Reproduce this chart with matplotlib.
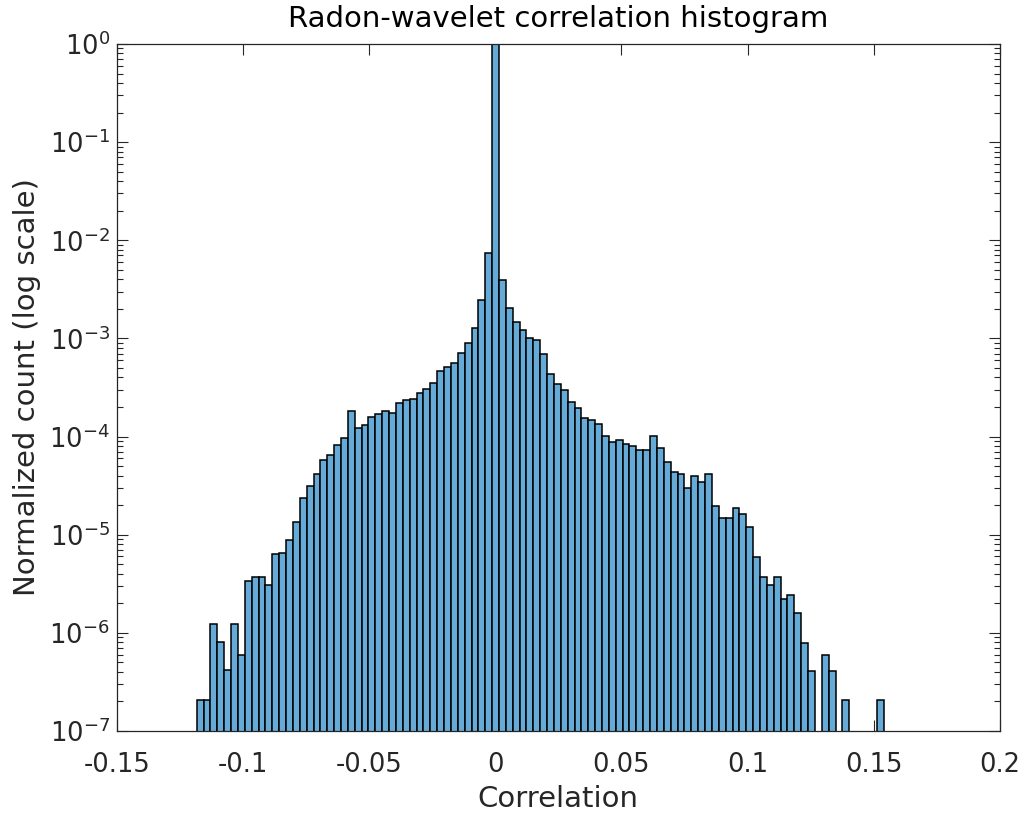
import numpy as np
import matplotlib
matplotlib.use("Agg")
import matplotlib.pyplot as plt
from matplotlib.ticker import LogLocator, FixedLocator, FixedFormatter, NullFormatter

# ---- data ----
bin_lo = -0.1183
bin_hi = 0.1539
heights = [
    2.04e-7, 2.04e-7, 1.23e-6, 8.07e-7, 4.18e-7, 1.23e-6, 5.98e-7, 3.40e-6, 3.73e-6, 3.73e-6,
    3.09e-6, 6.36e-6, 6.56e-6, 8.84e-6, 1.35e-5, 2.36e-5, 3.11e-5, 4.16e-5, 5.77e-5, 6.53e-5,
    8.26e-5, 9.67e-5, 1.83e-4, 1.22e-4, 1.32e-4, 1.59e-4, 1.70e-4, 1.81e-4, 1.75e-4, 2.21e-4,
    2.34e-4, 2.43e-4, 2.80e-4, 3.07e-4, 3.54e-4, 4.69e-4, 5.15e-4, 5.66e-4, 7.15e-4, 8.88e-4,
    1.28e-3, 2.46e-3, 7.50e-3, 1.0, 3.94e-3, 2.06e-3, 1.47e-3, 1.22e-3, 1.01e-3, 9.64e-4,
    6.99e-4, 4.37e-4, 3.43e-4, 2.98e-4, 2.26e-4, 1.95e-4, 1.55e-4, 1.47e-4, 1.34e-4, 1.01e-4,
    8.87e-5, 9.23e-5, 8.40e-5, 8.01e-5, 7.30e-5, 7.30e-5, 1.01e-4, 7.64e-5, 5.51e-5, 4.36e-5,
    4.16e-5, 2.99e-5, 3.97e-5, 3.44e-5, 4.16e-5, 1.95e-5, 1.47e-5, 1.47e-5, 1.85e-5, 1.62e-5,
    1.21e-5, 5.97e-6, 3.73e-6, 3.09e-6, 3.73e-6, 2.23e-6, 2.45e-6, 1.60e-6, 7.94e-7, 4.11e-7,
    0.0, 5.98e-7, 4.11e-7, 0.0, 2.04e-7, 0.0, 0.0, 0.0, 0.0, 2.04e-7,
]
x_ticks = [-0.15, -0.1, -0.05, 0, 0.05, 0.1, 0.15, 0.2]
x_tick_labels = ["-0.15", "-0.1", "-0.05", "0", "0.05", "0.1", "0.15", "0.2"]
y_ticks = [1e-7, 1e-6, 1e-5, 1e-4, 1e-3, 1e-2, 1e-1, 1e0]
y_tick_labels = [r"$10^{-7}$", r"$10^{-6}$", r"$10^{-5}$", r"$10^{-4}$",
                 r"$10^{-3}$", r"$10^{-2}$", r"$10^{-1}$", r"$10^{0}$"]
title = "Radon-wavelet correlation histogram"
xlabel = "Correlation"
ylabel = "Normalized count (log scale)"

# ---- plot ----
plt.rcParams['font.family'] = ['DejaVu Sans']
plt.rcParams['mathtext.fontset'] = 'dejavusans'
plt.rcParams['axes.unicode_minus'] = False
fig = plt.figure(figsize=(10.25, 8.13), dpi=100)
ax = fig.add_axes([0.1139, 0.1009, 0.8617, 0.8450])

edges = np.linspace(bin_lo, bin_hi, len(heights) + 1)
h = np.array(heights)
centers = 0.5 * (edges[:-1] + edges[1:])
width = edges[1] - edges[0]
mask = h > 0

ax.set_yscale('log')
ax.bar(centers[mask], h[mask], width=width, bottom=1e-9,
       color=(0.4, 0.668, 0.845), edgecolor='black', linewidth=1.1, zorder=2)

ax.set_xlim(-0.15, 0.2)
ax.set_ylim(1e-7, 1)

dark = (0.15, 0.15, 0.15)
ax.xaxis.set_major_locator(FixedLocator(x_ticks))
ax.xaxis.set_major_formatter(FixedFormatter(x_tick_labels))
ax.yaxis.set_major_locator(FixedLocator(y_ticks))
ax.yaxis.set_major_formatter(FixedFormatter(y_tick_labels))
minor = [m * 10.0 ** e for e in range(-7, 0) for m in range(2, 10)]
ax.yaxis.set_minor_locator(FixedLocator(minor))
ax.yaxis.set_minor_formatter(NullFormatter())

ax.tick_params(which='both', direction='in', top=True, right=True, colors=dark,
               labelsize=18.5, width=0.8)
ax.tick_params(which='major', length=8)
ax.tick_params(which='minor', length=4)
ax.tick_params(axis='x', pad=15)
ax.tick_params(axis='y', pad=5)
for s in ax.spines.values():
    s.set_color(dark)
    s.set_linewidth(0.9)
    s.set_zorder(5)

ax.set_title(title, fontsize=21, color='black', pad=12)
ax.set_xlabel(xlabel, fontsize=21, color=dark, labelpad=5)
ax.set_ylabel(ylabel, fontsize=21, color=dark, labelpad=6)

fig.savefig("out.png", dpi=100)
